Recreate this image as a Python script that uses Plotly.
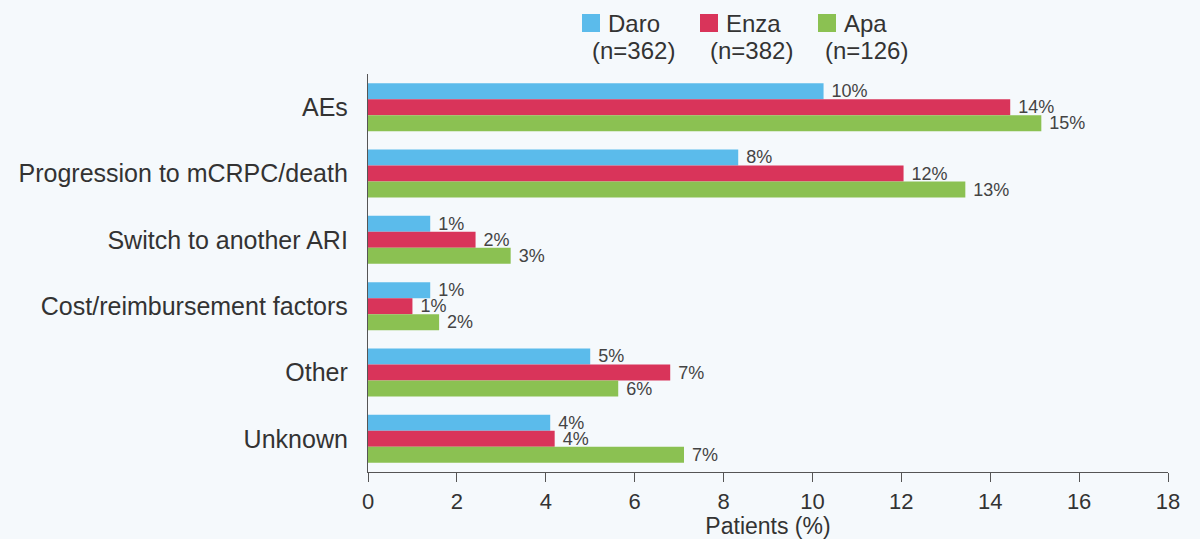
import plotly.graph_objects as go

categories = ["AEs", "Progression to mCRPC/death", "Switch to another ARI",
              "Cost/reimbursement factors", "Other", "Unknown"]
series_names = ["Daro", "Enza", "Apa"]
series_n = ["(n=362)", "(n=382)", "(n=126)"]
daro = [10.25, 8.33, 1.4, 1.4, 5.0, 4.1]
enza = [14.45, 12.05, 2.42, 1.0, 6.8, 4.2]
apa = [15.15, 13.44, 3.21, 1.6, 5.63, 7.11]
daro_labels = ["10%", "8%", "1%", "1%", "5%", "4%"]
enza_labels = ["14%", "12%", "2%", "1%", "7%", "4%"]
apa_labels = ["15%", "13%", "3%", "2%", "6%", "7%"]
colors = ["#5bbbeb", "#d9345a", "#8bc152"]
x_ticks = [0, 2, 4, 6, 8, 10, 12, 14, 16, 18]

W, H = 1200, 539
L, R, T, B = 368, 32, 74, 67
FONT = "Liberation Sans, Arial, sans-serif"
TXT = "#333333"

fig = go.Figure()
for name, vals, labs, col in zip(series_names, [daro, enza, apa],
                                 [daro_labels, enza_labels, apa_labels], colors):
    fig.add_trace(go.Bar(
        y=categories, x=vals, name=name, orientation="h",
        marker=dict(color=col, line=dict(width=0)),
        text=[" " + t for t in labs], textposition="outside",
        textfont=dict(size=18, color="#444444", family=FONT),
        constraintext="none", cliponaxis=False, showlegend=False,
    ))

# manual legend (square + centered two-line text), pixel helpers
def px_x(px):
    return (px - L) / (W - L - R)

def px_y(py):
    return (H - B - py) / (H - T - B)

sq_left = [582, 700, 818]
txt_center = [633, 751, 866]
for i in range(3):
    fig.add_shape(type="rect", xref="paper", yref="paper",
                  x0=px_x(sq_left[i]), x1=px_x(sq_left[i] + 18),
                  y0=px_y(32), y1=px_y(14),
                  fillcolor=colors[i], line=dict(width=0))
    fig.add_annotation(xref="paper", yref="paper",
                       x=px_x(sq_left[i] + 24), y=px_y(23),
                       text=series_names[i], showarrow=False,
                       xanchor="left", yanchor="middle",
                       font=dict(size=24, color=TXT, family=FONT))
    fig.add_annotation(xref="paper", yref="paper",
                       x=px_x(txt_center[i]), y=px_y(51),
                       text=series_n[i], showarrow=False,
                       xanchor="center", yanchor="middle",
                       font=dict(size=24, color=TXT, family=FONT))

fig.update_layout(
    width=W, height=H,
    margin=dict(l=L, r=R, t=T, b=B, pad=0),
    paper_bgcolor="#f5f9fc", plot_bgcolor="#f5f9fc",
    barmode="group", bargap=0.276, bargroupgap=0,
    font=dict(family=FONT, color=TXT),
    xaxis=dict(range=[0, 18], tickvals=x_ticks, showgrid=False, zeroline=False,
               showline=True, linecolor="#555555", linewidth=1.3,
               ticks="outside", ticklen=9, tickcolor="#555555",
               tickfont=dict(size=22, color=TXT), automargin=False,
               title=dict(text="Patients (%)", font=dict(size=23, color=TXT), standoff=4)),
    yaxis=dict(autorange="reversed", showgrid=False, zeroline=False,
               showline=True, linecolor="#555555", linewidth=1.3,
               ticks="", ticklabelstandoff=14, automargin=False,
               tickfont=dict(size=25, color=TXT)),
)

fig.write_html("out.html")
